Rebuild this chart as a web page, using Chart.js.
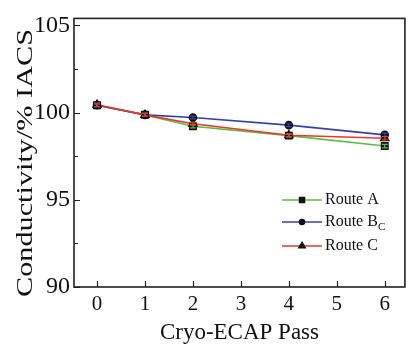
<!DOCTYPE html>
<html>
<head>
<meta charset="utf-8">
<script src="https://cdn.jsdelivr.net/npm/chart.js@4.4.1/dist/chart.umd.min.js"></script>
<style>
html, body { margin: 0; padding: 0; background: #fff; }
</style>
</head>
<body>
<canvas id="condChart" width="411" height="344"></canvas>
<script>
// Datos
var passes = [0, 1, 2, 4, 6];
var routeA = [100.42, 99.87, 99.22, 98.68, 98.08];
var routeBc = [100.42, 99.87, 99.72, 99.28, 98.72];
var routeC = [100.45, 99.87, 99.36, 98.70, 98.53];
var errA = [0.08, 0.08, 0.1, 0.08, 0.1];
var errBc = [0.08, 0.08, 0.08, 0.08, 0.1];
var errC = [0.1, 0.08, 0.08, 0.08, 0.1];
var xTickValues = [0, 1, 2, 3, 4, 5, 6];
var yTickValues = [90, 92.5, 95, 97.5, 100, 102.5, 105];
var yTitle = 'Conductivity/% IACS';

var serif = "'Liberation Serif', 'DejaVu Serif', serif";

function toPoints(ys) {
    return passes.map(function (x, i) { return { x: x, y: ys[i] }; });
}

// ticks hacia dentro + marco
var frameTicks = {
    id: 'frameTicks',
    afterDraw: function (chart) {
        var ctx = chart.ctx, a = chart.chartArea;
        var xs = chart.scales.x, ys = chart.scales.y;
        ctx.save();
        ctx.strokeStyle = '#222';
        ctx.lineWidth = 1.6;
        ctx.strokeRect(a.left, a.top, a.right - a.left, a.bottom - a.top);
        ctx.lineWidth = 1.2;
        ctx.beginPath();
        yTickValues.forEach(function (v) {
            var py = Math.round(ys.getPixelForValue(v)) + 0.5;
            var len = (v % 5 === 0) ? 6 : 4;
            ctx.moveTo(a.left, py);
            ctx.lineTo(a.left + len, py);
        });
        xTickValues.forEach(function (v) {
            var px = Math.round(xs.getPixelForValue(v)) + 0.5;
            ctx.moveTo(px, a.bottom);
            ctx.lineTo(px, a.bottom - 6);
        });
        ctx.stroke();

        // título del eje Y (un poco estirado como en la figura)
        var a2 = chart.chartArea;
        ctx.translate(25.5, 163);
        ctx.rotate(-Math.PI / 2);
        ctx.scale(1.26, 1);
        ctx.fillStyle = '#111';
        ctx.font = '24px ' + serif;
        ctx.textAlign = 'center';
        ctx.textBaseline = 'middle';
        ctx.fillText(yTitle, 0, 0);
        ctx.restore();
    }
};

// barras de error
var errorBars = {
    id: 'errorBars',
    afterDatasetsDraw: function (chart) {
        var ctx = chart.ctx, ys = chart.scales.y, xs = chart.scales.x;
        ctx.save();
        chart.data.datasets.forEach(function (ds) {
            ctx.strokeStyle = ds.borderColor;
            ctx.lineWidth = 1.2;
            ds.data.forEach(function (p, i) {
                var px = xs.getPixelForValue(p.x);
                var y1 = ys.getPixelForValue(p.y - ds.err[i]);
                var y2 = ys.getPixelForValue(p.y + ds.err[i]);
                ctx.beginPath();
                ctx.moveTo(px, y1); ctx.lineTo(px, y2);
                ctx.moveTo(px - 3, y1); ctx.lineTo(px + 3, y1);
                ctx.moveTo(px - 3, y2); ctx.lineTo(px + 3, y2);
                ctx.stroke();
            });
        });
        ctx.restore();
    }
};

// leyenda con subíndice
var routeLegend = {
    id: 'routeLegend',
    afterDraw: function (chart) {
        var ctx = chart.ctx;
        var x0 = 282, x1 = 322, tx = 325;
        var rows = [200, 222, 246];
        ctx.save();
        chart.data.datasets.forEach(function (ds, k) {
            var y = rows[k];
            ctx.strokeStyle = ds.borderColor;
            ctx.lineWidth = 1.6;
            ctx.beginPath();
            ctx.moveTo(x0, y); ctx.lineTo(x1, y);
            ctx.stroke();
            ctx.fillStyle = '#111';
            ctx.strokeStyle = '#111';
            Chart.helpers.drawPoint(ctx, {
                pointStyle: ds.pointStyle,
                radius: ds.pointRadius - 1,
                rotation: 0,
                borderWidth: 1
            }, (x0 + x1) / 2, y);
            ctx.textBaseline = 'middle';
            ctx.font = '16px ' + serif;
            ctx.fillText(ds.labelMain, tx, y);
            if (ds.labelSub) {
                var w = ctx.measureText(ds.labelMain).width;
                ctx.font = '11px ' + serif;
                ctx.fillText(ds.labelSub, tx + w, y + 5);
            }
        });
        ctx.restore();
    }
};

var ctxCond = document.getElementById('condChart').getContext('2d');
var condChart = new Chart(ctxCond, {
    type: 'scatter',
    data: {
        datasets: [{
            label: 'Route A',
            labelMain: 'Route A',
            data: toPoints(routeA),
            err: errA,
            borderColor: 'rgb(88, 190, 68)',
            backgroundColor: '#111',
            pointBackgroundColor: '#111',
            pointBorderColor: '#111',
            pointStyle: 'rect',
            pointRadius: 4.5,
            showLine: true,
            borderWidth: 1.6,
            order: 3
        }, {
            label: 'Route Bc',
            labelMain: 'Route B',
            labelSub: 'C',
            data: toPoints(routeBc),
            err: errBc,
            borderColor: 'rgb(52, 64, 178)',
            backgroundColor: '#111',
            pointBackgroundColor: '#111',
            pointBorderColor: '#111',
            pointStyle: 'circle',
            pointRadius: 3.5,
            showLine: true,
            borderWidth: 1.6,
            order: 2
        }, {
            label: 'Route C',
            labelMain: 'Route C',
            data: toPoints(routeC),
            err: errC,
            borderColor: 'rgb(240, 52, 40)',
            backgroundColor: '#111',
            pointBackgroundColor: '#111',
            pointBorderColor: '#111',
            pointStyle: 'triangle',
            pointRadius: 4.5,
            showLine: true,
            borderWidth: 1.6,
            order: 1
        }]
    },
    options: {
        responsive: false,
        animation: false,
        layout: { padding: { top: 12, right: 1, left: 0, bottom: 0 } },
        plugins: {
            legend: { display: false },
            tooltip: { enabled: false }
        },
        scales: {
            x: {
                type: 'linear',
                min: -0.48,
                max: 6.42,
                grid: { display: false, drawTicks: false },
                border: { display: false },
                afterBuildTicks: function (s) {
                    s.ticks = xTickValues.map(function (v) { return { value: v }; });
                },
                afterFit: function (s) { s.height = 57; },
                ticks: {
                    color: '#111',
                    padding: 5,
                    font: { family: serif, size: 21 }
                },
                title: {
                    display: true,
                    text: 'Cryo-ECAP Pass',
                    color: '#111',
                    padding: { top: 0, bottom: -3 },
                    font: { family: serif, size: 23 }
                }
            },
            y: {
                type: 'linear',
                min: 90,
                max: 105.4,
                grid: { display: false, drawTicks: false },
                border: { display: false },
                afterBuildTicks: function (s) {
                    s.ticks = yTickValues.map(function (v) { return { value: v }; });
                },
                afterFit: function (s) { s.width = 74; },
                ticks: {
                    color: '#111',
                    padding: 4,
                    font: { family: serif, size: 24 },
                    callback: function (v) { return v % 5 === 0 ? v : ''; }
                },
                title: { display: false }
            }
        }
    },
    plugins: [errorBars, frameTicks, routeLegend]
});
</script>
</body>
</html>
